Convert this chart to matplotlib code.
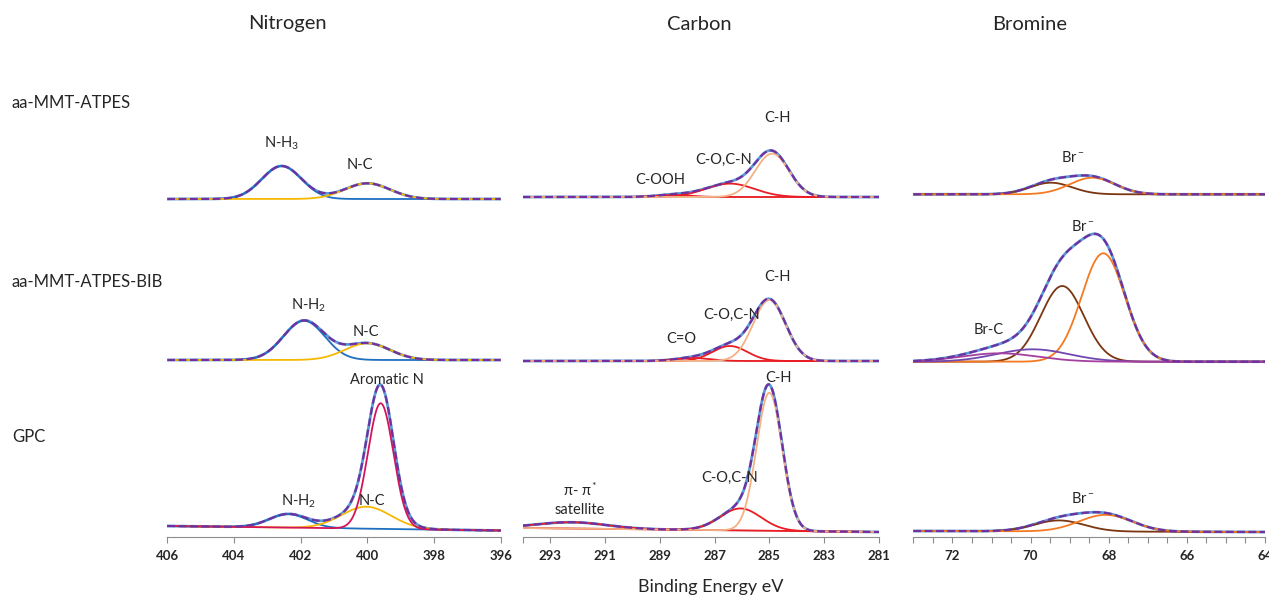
import numpy as np
import matplotlib
matplotlib.use("Agg")
import matplotlib.pyplot as plt
from matplotlib.ticker import MultipleLocator, FixedLocator

plt.rcParams['font.family'] = ['Lato', 'DejaVu Sans']
plt.rcParams['mathtext.fontset'] = 'custom'
plt.rcParams['mathtext.rm'] = 'Lato'
plt.rcParams['mathtext.it'] = 'Lato:italic'
plt.rcParams['mathtext.bf'] = 'Lato:bold'

# --- data ---------------------------------------------------------------
col_titles = ["Nitrogen", "Carbon", "Bromine"]
row_titles = ["aa-MMT-ATPES", "aa-MMT-ATPES-BIB", "GPC"]

# binding energy ranges (eV), high -> low
n_range = [406, 396]
c_range = [294, 281]
br_range = [73, 64]

# fitted peaks: centre (eV), FWHM (eV), height (a.u.), background (left, right)
# Nitrogen
n1_centre = [402.57, 400.0]
n1_fwhm = [1.4, 1.6]
n1_height = [33, 15.7]
n1_bg = [6, 6]

n2_centre = [401.9, 400.0]
n2_fwhm = [1.45, 1.6]
n2_height = [39.3, 16.7]
n2_bg = [12, 12]

n3_centre = [402.37, 400.03, 399.6]
n3_fwhm = [1.35, 1.75, 0.9]
n3_height = [13.6, 22, 125.6]
n3_bg = [11, 6.5]

# Carbon
c1_centre = [288.5, 286.44, 284.9]
c1_fwhm = [1.5, 2.1, 1.45]
c1_height = [2, 13.4, 43.4]
c1_bg = [8, 8]

c2_centre = [287.8, 286.44, 285.0]
c2_fwhm = [1.5, 1.5, 1.4]
c2_height = [3, 15, 61]
c2_bg = [11, 11]

c3_centre = [292.2, 286.05, 285.0]
c3_fwhm = [3.0, 1.76, 1.1]
c3_height = [6.3, 22, 138]
c3_bg = [9, 5]

# Bromine
br1_centre = [69.48, 68.42]
br1_fwhm = [1.27, 1.36]
br1_height = [11.6, 16.6]
br1_bg = [10.7, 10.7]

br2_centre = [69.19, 68.14, 69.95, 70.8]
br2_fwhm = [1.3, 1.3, 2.2, 2.3]
br2_height = [75.7, 108.4, 12.4, 8.4]
br2_bg = [10.3, 10.3]

br3_centre = [69.27, 68.08]
br3_fwhm = [1.5, 1.6]
br3_height = [11, 16.7]
br3_bg = [6, 5]

# peak labels: (text, energy, intensity)
n1_labels = [("N-H$_3$", 402.57, 62), ("N-C", 400.22, 40)]
n2_labels = [("N-H$_2$", 401.75, 67), ("N-C", 400.05, 39.7)]
n3_labels = [("Aromatic N", 399.41, 157), ("N-H$_2$", 402.05, 35.3), ("N-C", 399.87, 36)]
c1_labels = [("C-H", 284.69, 87), ("C-O,C-N", 286.65, 45), ("C-OOH", 288.99, 25)]
c2_labels = [("C-H", 284.72, 95), ("C-O,C-N", 286.37, 57), ("C=O", 288.22, 32.7)]
c3_labels = [("C-H", 284.66, 158.7), ("C-O,C-N", 286.44, 58.7),
             ("π- π$^*$", 291.91, 47), ("satellite", 291.9, 27)]
br1_labels = [("Br$^-$", 68.93, 47.7)]
br2_labels = [("Br$^-$", 68.67, 145.3), ("Br-C", 71.08, 42)]
br3_labels = [("Br$^-$", 68.67, 38.7)]

# --- styling -------------------------------------------------------------
raw_color = "#5B9BD5"
env_color = "#7030A0"
grey = "#C8C8C8"
n_colors = {"NH": "#1F6FC0", "NC": "#F5B800", "Ar": "#D4145A"}
c_colors = {"Cs": "#EB1C24", "CO": "#EB1C24", "CH": "#F4B183"}
br_colors = {"brown": "#7B3510", "orange": "#F47920", "purple": "#7048B0", "magenta": "#A43FA0"}

W, H = 1269, 597
fig = plt.figure(figsize=(W / 100, H / 100), dpi=100)

col_px = [(167.3, 500.7), (522.6, 879.0), (913.4, 1265.0)]
row_px = [(110, 205), (215, 372), (375, 537)]

panels = [
    [(n_range, n1_centre, n1_fwhm, n1_height, n1_bg, [n_colors["NH"], n_colors["NC"]], n1_labels, False),
     (c_range, c1_centre, c1_fwhm, c1_height, c1_bg, [c_colors["Cs"], c_colors["CO"], c_colors["CH"]], c1_labels, True),
     (br_range, br1_centre, br1_fwhm, br1_height, br1_bg, [br_colors["brown"], br_colors["orange"]], br1_labels, False)],
    [(n_range, n2_centre, n2_fwhm, n2_height, n2_bg, [n_colors["NH"], n_colors["NC"]], n2_labels, False),
     (c_range, c2_centre, c2_fwhm, c2_height, c2_bg, [c_colors["Cs"], c_colors["CO"], c_colors["CH"]], c2_labels, True),
     (br_range, br2_centre, br2_fwhm, br2_height, br2_bg,
      [br_colors["brown"], br_colors["orange"], br_colors["purple"], br_colors["magenta"]], br2_labels, False)],
    [(n_range, n3_centre, n3_fwhm, n3_height, n3_bg, [n_colors["NH"], n_colors["NC"], n_colors["Ar"]], n3_labels, False),
     (c_range, c3_centre, c3_fwhm, c3_height, c3_bg, [c_colors["Cs"], c_colors["CO"], c_colors["CH"]], c3_labels, True),
     (br_range, br3_centre, br3_fwhm, br3_height, br3_bg, [br_colors["brown"], br_colors["orange"]], br3_labels, False)],
]


def draw_panel(ax, xr, centres, fwhms, heights, bg, colors, labels, grey_bg):
    x = np.linspace(xr[0], xr[1], 800)
    base = bg[0] + (bg[1] - bg[0]) * (xr[0] - x) / (xr[0] - xr[1])
    comps = [h * np.exp(-4 * np.log(2) * (x - c) ** 2 / w ** 2)
             for c, w, h in zip(centres, fwhms, heights)]
    env = base + np.sum(comps, axis=0)
    ax.plot(x, env, color=raw_color, lw=2.0)
    if grey_bg:
        ax.plot(x, base, color=grey, lw=1.2)
    for comp, col in zip(comps, colors):
        ax.plot(x, base + comp, color=col, lw=1.3)
    ax.plot(x, env, color=env_color, lw=1.6, ls=(0, (3.5, 1.6)))
    for txt, ex, ey in labels:
        ax.text(ex, ey, txt, ha="center", va="center", fontsize=10.5, color="#262626")


for r in range(3):
    yt, yb = row_px[r]
    for c in range(3):
        x0, x1 = col_px[c]
        ax = fig.add_axes([x0 / W, 1 - yb / H, (x1 - x0) / W, (yb - yt) / H])
        xr, cen, fw, hh, bg, cols, labs, gb = panels[r][c]
        draw_panel(ax, xr, cen, fw, hh, bg, cols, labs, gb)
        ax.set_xlim(xr[0], xr[1])
        ax.set_ylim(0, yb - yt)
        ax.set_yticks([])
        for s in ["top", "left", "right"]:
            ax.spines[s].set_visible(False)
        ax.patch.set_alpha(0)
        if r < 2:
            ax.spines["bottom"].set_visible(False)
            ax.set_xticks([])
        else:
            ax.spines["bottom"].set_color("#8C8C8C")
            ax.tick_params(axis="x", which="both", direction="out", length=4,
                           width=0.8, color="#8C8C8C", labelsize=9.5, pad=5)
            if c == 0:
                ax.xaxis.set_major_locator(MultipleLocator(2))
            elif c == 1:
                ax.xaxis.set_major_locator(FixedLocator([293, 291, 289, 287, 285, 283, 281]))
                ax.xaxis.set_minor_locator(FixedLocator([294]))
            else:
                ax.xaxis.set_major_locator(MultipleLocator(2))
                ax.xaxis.set_minor_locator(MultipleLocator(0.5))
            for lab in ax.get_xticklabels():
                lab.set_fontweight("bold")
                lab.set_color("#262626")

title_x = [287, 699, 1030]
for t, xp in zip(col_titles, title_x):
    fig.text(xp / W, 1 - 24 / H, t, ha="center", va="center", fontsize=14.5, color="#262626")

row_y = [103, 282, 437]
for t, yp in zip(row_titles, row_y):
    fig.text(12 / W, 1 - yp / H, t, ha="left", va="center", fontsize=12, color="#262626")

fig.text(711 / W, 1 - 587 / H, "Binding Energy eV", ha="center", va="center", fontsize=13, color="#262626")

fig.savefig("out.png", dpi=100)
